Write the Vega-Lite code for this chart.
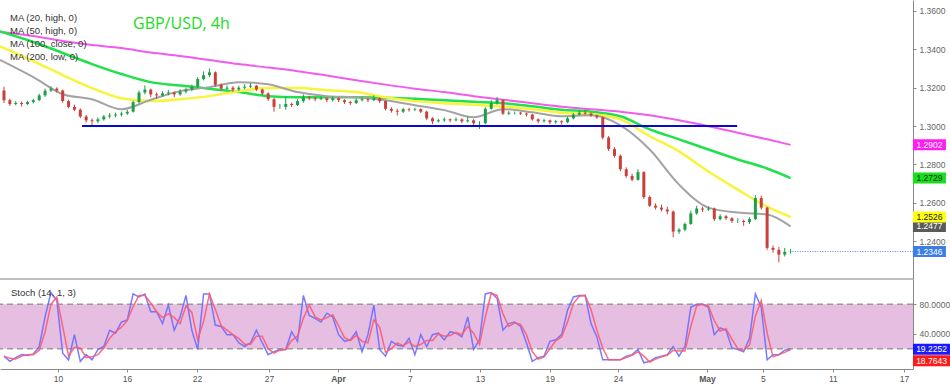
{
"$schema": "https://vega.github.io/schema/vega-lite/v6.json",
"autosize": {"type": "none"},
"padding": {"left": 0, "top": 0, "right": 37, "bottom": 16},
"background": "white",
"config": {"view": {"stroke": null}, "font": "Liberation Sans", "text": {"font": "Liberation Sans"}},
"datasets": {
"candles": [
{"i":0,"o":1.3185,"h":1.3205,"l":1.3120,"c":1.3135},{"i":1,"o":1.3135,"h":1.3142,"l":1.3105,"c":1.3115},{"i":2,"o":1.3115,"h":1.3130,"l":1.3108,"c":1.3120},{"i":3,"o":1.3120,"h":1.3128,"l":1.3102,"c":1.3115},{"i":4,"o":1.3115,"h":1.3132,"l":1.3110,"c":1.3125},{"i":5,"o":1.3125,"h":1.3142,"l":1.3118,"c":1.3135},{"i":6,"o":1.3135,"h":1.3168,"l":1.3130,"c":1.3160},{"i":7,"o":1.3160,"h":1.3195,"l":1.3152,"c":1.3185},{"i":8,"o":1.3185,"h":1.3208,"l":1.3178,"c":1.3195},{"i":9,"o":1.3195,"h":1.3202,"l":1.3175,"c":1.3185},
{"i":10,"o":1.3185,"h":1.3190,"l":1.3122,"c":1.3130},{"i":11,"o":1.3130,"h":1.3138,"l":1.3092,"c":1.3100},{"i":12,"o":1.3100,"h":1.3112,"l":1.3078,"c":1.3085},{"i":13,"o":1.3085,"h":1.3092,"l":1.3042,"c":1.3050},{"i":14,"o":1.3050,"h":1.3058,"l":1.3018,"c":1.3030},{"i":15,"o":1.3030,"h":1.3040,"l":1.3000,"c":1.3025},{"i":16,"o":1.3025,"h":1.3045,"l":1.3015,"c":1.3035},{"i":17,"o":1.3035,"h":1.3058,"l":1.3028,"c":1.3050},{"i":18,"o":1.3050,"h":1.3068,"l":1.3040,"c":1.3055},{"i":19,"o":1.3055,"h":1.3070,"l":1.3045,"c":1.3060},
{"i":20,"o":1.3060,"h":1.3075,"l":1.3050,"c":1.3065},{"i":21,"o":1.3065,"h":1.3085,"l":1.3058,"c":1.3075},{"i":22,"o":1.3075,"h":1.3132,"l":1.3070,"c":1.3125},{"i":23,"o":1.3125,"h":1.3185,"l":1.3118,"c":1.3175},{"i":24,"o":1.3175,"h":1.3212,"l":1.3165,"c":1.3190},{"i":25,"o":1.3190,"h":1.3195,"l":1.3150,"c":1.3165},{"i":26,"o":1.3165,"h":1.3175,"l":1.3142,"c":1.3160},{"i":27,"o":1.3160,"h":1.3182,"l":1.3152,"c":1.3170},{"i":28,"o":1.3170,"h":1.3188,"l":1.3160,"c":1.3175},{"i":29,"o":1.3175,"h":1.3180,"l":1.3150,"c":1.3165},
{"i":30,"o":1.3165,"h":1.3192,"l":1.3158,"c":1.3180},{"i":31,"o":1.3180,"h":1.3200,"l":1.3170,"c":1.3190},{"i":32,"o":1.3190,"h":1.3215,"l":1.3182,"c":1.3205},{"i":33,"o":1.3205,"h":1.3255,"l":1.3198,"c":1.3245},{"i":34,"o":1.3245,"h":1.3285,"l":1.3238,"c":1.3265},{"i":35,"o":1.3265,"h":1.3300,"l":1.3255,"c":1.3280},{"i":36,"o":1.3280,"h":1.3285,"l":1.3205,"c":1.3215},{"i":37,"o":1.3215,"h":1.3222,"l":1.3185,"c":1.3195},{"i":38,"o":1.3195,"h":1.3212,"l":1.3188,"c":1.3200},{"i":39,"o":1.3200,"h":1.3208,"l":1.3178,"c":1.3190},
{"i":40,"o":1.3190,"h":1.3210,"l":1.3182,"c":1.3200},{"i":41,"o":1.3200,"h":1.3218,"l":1.3192,"c":1.3205},{"i":42,"o":1.3205,"h":1.3225,"l":1.3198,"c":1.3210},{"i":43,"o":1.3210,"h":1.3215,"l":1.3182,"c":1.3190},{"i":44,"o":1.3190,"h":1.3196,"l":1.3160,"c":1.3170},{"i":45,"o":1.3170,"h":1.3176,"l":1.3132,"c":1.3140},{"i":46,"o":1.3140,"h":1.3148,"l":1.3075,"c":1.3100},{"i":47,"o":1.3100,"h":1.3115,"l":1.3090,"c":1.3100},{"i":48,"o":1.3100,"h":1.3155,"l":1.3085,"c":1.3115},{"i":49,"o":1.3115,"h":1.3122,"l":1.3100,"c":1.3110},
{"i":50,"o":1.3110,"h":1.3140,"l":1.3105,"c":1.3130},{"i":51,"o":1.3130,"h":1.3165,"l":1.3122,"c":1.3150},{"i":52,"o":1.3150,"h":1.3158,"l":1.3135,"c":1.3145},{"i":53,"o":1.3145,"h":1.3152,"l":1.3130,"c":1.3140},{"i":54,"o":1.3140,"h":1.3155,"l":1.3135,"c":1.3145},{"i":55,"o":1.3145,"h":1.3150,"l":1.3125,"c":1.3135},{"i":56,"o":1.3135,"h":1.3155,"l":1.3128,"c":1.3145},{"i":57,"o":1.3145,"h":1.3150,"l":1.3125,"c":1.3135},{"i":58,"o":1.3135,"h":1.3140,"l":1.3115,"c":1.3125},{"i":59,"o":1.3125,"h":1.3132,"l":1.3110,"c":1.3120},
{"i":60,"o":1.3120,"h":1.3145,"l":1.3115,"c":1.3135},{"i":61,"o":1.3135,"h":1.3150,"l":1.3128,"c":1.3140},{"i":62,"o":1.3140,"h":1.3146,"l":1.3125,"c":1.3135},{"i":63,"o":1.3135,"h":1.3160,"l":1.3130,"c":1.3145},{"i":64,"o":1.3145,"h":1.3150,"l":1.3120,"c":1.3130},{"i":65,"o":1.3130,"h":1.3135,"l":1.3082,"c":1.3090},{"i":66,"o":1.3090,"h":1.3098,"l":1.3070,"c":1.3080},{"i":67,"o":1.3080,"h":1.3090,"l":1.3055,"c":1.3075},{"i":68,"o":1.3075,"h":1.3095,"l":1.3068,"c":1.3088},{"i":69,"o":1.3088,"h":1.3095,"l":1.3075,"c":1.3085},
{"i":70,"o":1.3085,"h":1.3096,"l":1.3078,"c":1.3088},{"i":71,"o":1.3088,"h":1.3092,"l":1.3068,"c":1.3075},{"i":72,"o":1.3075,"h":1.3080,"l":1.3032,"c":1.3040},{"i":73,"o":1.3040,"h":1.3046,"l":1.3010,"c":1.3025},{"i":74,"o":1.3025,"h":1.3038,"l":1.3018,"c":1.3030},{"i":75,"o":1.3030,"h":1.3045,"l":1.3022,"c":1.3035},{"i":76,"o":1.3035,"h":1.3040,"l":1.3020,"c":1.3030},{"i":77,"o":1.3030,"h":1.3045,"l":1.3025,"c":1.3035},{"i":78,"o":1.3035,"h":1.3040,"l":1.3015,"c":1.3025},{"i":79,"o":1.3025,"h":1.3050,"l":1.3018,"c":1.3030},
{"i":80,"o":1.3030,"h":1.3036,"l":1.3005,"c":1.3015},{"i":81,"o":1.3015,"h":1.3025,"l":1.2985,"c":1.3015},{"i":82,"o":1.3015,"h":1.3098,"l":1.3010,"c":1.3090},{"i":83,"o":1.3090,"h":1.3135,"l":1.3085,"c":1.3120},{"i":84,"o":1.3120,"h":1.3152,"l":1.3112,"c":1.3135},{"i":85,"o":1.3135,"h":1.3140,"l":1.3058,"c":1.3065},{"i":86,"o":1.3065,"h":1.3078,"l":1.3058,"c":1.3070},{"i":87,"o":1.3070,"h":1.3076,"l":1.3060,"c":1.3070},{"i":88,"o":1.3070,"h":1.3074,"l":1.3058,"c":1.3065},{"i":89,"o":1.3065,"h":1.3070,"l":1.3050,"c":1.3060},
{"i":90,"o":1.3060,"h":1.3064,"l":1.3028,"c":1.3035},{"i":91,"o":1.3035,"h":1.3040,"l":1.3015,"c":1.3025},{"i":92,"o":1.3025,"h":1.3038,"l":1.3018,"c":1.3030},{"i":93,"o":1.3030,"h":1.3034,"l":1.3010,"c":1.3020},{"i":94,"o":1.3020,"h":1.3032,"l":1.3012,"c":1.3025},{"i":95,"o":1.3025,"h":1.3030,"l":1.3008,"c":1.3020},{"i":96,"o":1.3020,"h":1.3048,"l":1.3015,"c":1.3040},{"i":97,"o":1.3040,"h":1.3068,"l":1.3035,"c":1.3060},{"i":98,"o":1.3060,"h":1.3082,"l":1.3055,"c":1.3070},{"i":99,"o":1.3070,"h":1.3085,"l":1.3058,"c":1.3065},
{"i":100,"o":1.3065,"h":1.3070,"l":1.3048,"c":1.3055},{"i":101,"o":1.3055,"h":1.3060,"l":1.3038,"c":1.3045},{"i":102,"o":1.3045,"h":1.3050,"l":1.2930,"c":1.2940},{"i":103,"o":1.2940,"h":1.2948,"l":1.2870,"c":1.2880},{"i":104,"o":1.2880,"h":1.2890,"l":1.2835,"c":1.2845},{"i":105,"o":1.2845,"h":1.2852,"l":1.2765,"c":1.2775},{"i":106,"o":1.2775,"h":1.2785,"l":1.2730,"c":1.2740},{"i":107,"o":1.2740,"h":1.2752,"l":1.2712,"c":1.2720},{"i":108,"o":1.2720,"h":1.2775,"l":1.2715,"c":1.2760},{"i":109,"o":1.2760,"h":1.2765,"l":1.2620,"c":1.2630},
{"i":110,"o":1.2630,"h":1.2638,"l":1.2578,"c":1.2585},{"i":111,"o":1.2585,"h":1.2598,"l":1.2565,"c":1.2575},{"i":112,"o":1.2575,"h":1.2590,"l":1.2555,"c":1.2565},{"i":113,"o":1.2565,"h":1.2580,"l":1.2540,"c":1.2555},{"i":114,"o":1.2555,"h":1.2560,"l":1.2420,"c":1.2450},{"i":115,"o":1.2450,"h":1.2468,"l":1.2438,"c":1.2460},{"i":116,"o":1.2460,"h":1.2498,"l":1.2452,"c":1.2490},{"i":117,"o":1.2490,"h":1.2560,"l":1.2485,"c":1.2545},{"i":118,"o":1.2545,"h":1.2585,"l":1.2538,"c":1.2570},{"i":119,"o":1.2570,"h":1.2580,"l":1.2552,"c":1.2565},
{"i":120,"o":1.2565,"h":1.2582,"l":1.2558,"c":1.2570},{"i":121,"o":1.2570,"h":1.2575,"l":1.2505,"c":1.2515},{"i":122,"o":1.2515,"h":1.2540,"l":1.2508,"c":1.2530},{"i":123,"o":1.2530,"h":1.2536,"l":1.2510,"c":1.2520},{"i":124,"o":1.2520,"h":1.2525,"l":1.2495,"c":1.2505},{"i":125,"o":1.2505,"h":1.2520,"l":1.2495,"c":1.2505},{"i":126,"o":1.2505,"h":1.2512,"l":1.2480,"c":1.2500},{"i":127,"o":1.2500,"h":1.2525,"l":1.2490,"c":1.2515},{"i":128,"o":1.2515,"h":1.2640,"l":1.2510,"c":1.2625},{"i":129,"o":1.2625,"h":1.2638,"l":1.2565,"c":1.2575},
{"i":130,"o":1.2575,"h":1.2580,"l":1.2355,"c":1.2365},{"i":131,"o":1.2365,"h":1.2378,"l":1.2340,"c":1.2355},{"i":132,"o":1.2355,"h":1.2370,"l":1.2290,"c":1.2330},{"i":133,"o":1.2330,"h":1.2365,"l":1.2320,"c":1.2345},{"i":134,"o":1.2345,"h":1.2360,"l":1.2335,"c":1.2346}
],
"ma": [
{"i":-0.7,"ma20":1.3345,"ma50":1.3415,"ma100":1.3493,"ma200":1.3492},
{"i":5,"ma20":1.3255,"ma50":1.3339,"ma100":1.3438,"ma200":1.3469},
{"i":10,"ma20":1.3166,"ma50":1.3266,"ma100":1.3381,"ma200":1.3443},
{"i":15,"ma20":1.3140,"ma50":1.3198,"ma100":1.3323,"ma200":1.3422},
{"i":20,"ma20":1.3088,"ma50":1.3145,"ma100":1.3271,"ma200":1.3407},
{"i":25,"ma20":1.3137,"ma50":1.3130,"ma100":1.3229,"ma200":1.3383},
{"i":30,"ma20":1.3182,"ma50":1.3140,"ma100":1.3211,"ma200":1.3365},
{"i":35,"ma20":1.3203,"ma50":1.3156,"ma100":1.3195,"ma200":1.3344},
{"i":40,"ma20":1.3229,"ma50":1.3182,"ma100":1.3177,"ma200":1.3323},
{"i":45,"ma20":1.3218,"ma50":1.3198,"ma100":1.3156,"ma200":1.3305},
{"i":50,"ma20":1.3177,"ma50":1.3198,"ma100":1.3150,"ma200":1.3286},
{"i":55,"ma20":1.3156,"ma50":1.3187,"ma100":1.3150,"ma200":1.3263},
{"i":60,"ma20":1.3150,"ma50":1.3177,"ma100":1.3150,"ma200":1.3239},
{"i":65,"ma20":1.3135,"ma50":1.3150,"ma100":1.3148,"ma200":1.3216},
{"i":70,"ma20":1.3109,"ma50":1.3130,"ma100":1.3143,"ma200":1.3195},
{"i":75,"ma20":1.3083,"ma50":1.3119,"ma100":1.3135,"ma200":1.3177},
{"i":80,"ma20":1.3046,"ma50":1.3111,"ma100":1.3127,"ma200":1.3156},
{"i":85,"ma20":1.3088,"ma50":1.3101,"ma100":1.3119,"ma200":1.3137},
{"i":90,"ma20":1.3072,"ma50":1.3088,"ma100":1.3103,"ma200":1.3119},
{"i":95,"ma20":1.3051,"ma50":1.3069,"ma100":1.3085,"ma200":1.3101},
{"i":100,"ma20":1.3056,"ma50":1.3062,"ma100":1.3075,"ma200":1.3088},
{"i":105,"ma20":1.3004,"ma50":1.3035,"ma100":1.3051,"ma200":1.3075},
{"i":110,"ma20":1.2878,"ma50":1.2947,"ma100":1.2983,"ma200":1.3056},
{"i":115,"ma20":1.2695,"ma50":1.2868,"ma100":1.2931,"ma200":1.3030},
{"i":120,"ma20":1.2575,"ma50":1.2763,"ma100":1.2878,"ma200":1.2999},
{"i":125,"ma20":1.2549,"ma50":1.2669,"ma100":1.2826,"ma200":1.2965},
{"i":130,"ma20":1.2539,"ma50":1.2580,"ma100":1.2779,"ma200":1.2931},
{"i":134,"ma20":1.2477,"ma50":1.2526,"ma100":1.2729,"ma200":1.2902}
],
"stoch": [
{"i":0,"k":10,"d":10},{"i":1,"k":3,"d":7},{"i":2,"k":8,"d":6},{"i":3,"k":12,"d":10},{"i":4,"k":11,"d":12},{"i":5,"k":13,"d":12},{"i":6,"k":23,"d":18},{"i":7,"k":63,"d":43},{"i":8,"k":96,"d":80},{"i":9,"k":85,"d":90},
{"i":10,"k":14,"d":50},{"i":11,"k":5,"d":10},{"i":12,"k":39,"d":22},{"i":13,"k":3,"d":21},{"i":14,"k":12,"d":8},{"i":15,"k":5,"d":9},{"i":16,"k":19,"d":12},{"i":17,"k":23,"d":21},{"i":18,"k":45,"d":34},{"i":19,"k":41,"d":43},
{"i":20,"k":56,"d":49},{"i":21,"k":59,"d":58},{"i":22,"k":94,"d":77},{"i":23,"k":90,"d":92},{"i":24,"k":94,"d":92},{"i":25,"k":70,"d":82},{"i":26,"k":70,"d":70},{"i":27,"k":54,"d":62},{"i":28,"k":79,"d":67},{"i":29,"k":45,"d":62},
{"i":30,"k":63,"d":54},{"i":31,"k":92,"d":78},{"i":32,"k":45,"d":69},{"i":33,"k":19,"d":32},{"i":34,"k":94,"d":57},{"i":35,"k":94,"d":94},{"i":36,"k":52,"d":73},{"i":37,"k":50,"d":51},{"i":38,"k":39,"d":45},{"i":39,"k":39,"d":39},
{"i":40,"k":28,"d":34},{"i":41,"k":23,"d":26},{"i":42,"k":28,"d":26},{"i":43,"k":45,"d":37},{"i":44,"k":28,"d":37},{"i":45,"k":12,"d":20},{"i":46,"k":16,"d":14},{"i":47,"k":19,"d":18},{"i":48,"k":19,"d":19},{"i":49,"k":43,"d":31},
{"i":50,"k":30,"d":37},{"i":51,"k":92,"d":61},{"i":52,"k":65,"d":79},{"i":53,"k":61,"d":63},{"i":54,"k":56,"d":59},{"i":55,"k":68,"d":62},{"i":56,"k":63,"d":66},{"i":57,"k":39,"d":51},{"i":58,"k":30,"d":35},{"i":59,"k":32,"d":31},
{"i":60,"k":43,"d":38},{"i":61,"k":16,"d":30},{"i":62,"k":39,"d":28},{"i":63,"k":79,"d":59},{"i":64,"k":19,"d":49},{"i":65,"k":10,"d":15},{"i":66,"k":30,"d":20},{"i":67,"k":25,"d":28},{"i":68,"k":23,"d":24},{"i":69,"k":34,"d":29},
{"i":70,"k":12,"d":23},{"i":71,"k":39,"d":26},{"i":72,"k":23,"d":31},{"i":73,"k":39,"d":31},{"i":74,"k":41,"d":40},{"i":75,"k":32,"d":37},{"i":76,"k":43,"d":38},{"i":77,"k":41,"d":42},{"i":78,"k":36,"d":39},{"i":79,"k":63,"d":50},
{"i":80,"k":19,"d":41},{"i":81,"k":32,"d":26},{"i":82,"k":94,"d":63},{"i":83,"k":96,"d":95},{"i":84,"k":88,"d":92},{"i":85,"k":45,"d":67},{"i":86,"k":54,"d":50},{"i":87,"k":56,"d":55},{"i":88,"k":50,"d":53},{"i":89,"k":28,"d":39},
{"i":90,"k":3,"d":16},{"i":91,"k":8,"d":6},{"i":92,"k":10,"d":9},{"i":93,"k":30,"d":20},{"i":94,"k":32,"d":31},{"i":95,"k":39,"d":36},{"i":96,"k":72,"d":56},{"i":97,"k":90,"d":81},{"i":98,"k":92,"d":91},{"i":99,"k":92,"d":92},
{"i":100,"k":54,"d":73},{"i":101,"k":36,"d":45},{"i":102,"k":5,"d":21},{"i":103,"k":5,"d":5},{"i":104,"k":5,"d":5},{"i":105,"k":5,"d":5},{"i":106,"k":10,"d":8},{"i":107,"k":12,"d":11},{"i":108,"k":19,"d":16},{"i":109,"k":1,"d":10},
{"i":110,"k":3,"d":2},{"i":111,"k":8,"d":6},{"i":112,"k":10,"d":9},{"i":113,"k":12,"d":11},{"i":114,"k":23,"d":18},{"i":115,"k":10,"d":17},{"i":116,"k":23,"d":17},{"i":117,"k":76,"d":50},{"i":118,"k":80,"d":78},{"i":119,"k":80,"d":80},
{"i":120,"k":76,"d":78},{"i":121,"k":39,"d":58},{"i":122,"k":48,"d":44},{"i":123,"k":45,"d":47},{"i":124,"k":21,"d":33},{"i":125,"k":19,"d":20},{"i":126,"k":16,"d":18},{"i":127,"k":34,"d":25},{"i":128,"k":94,"d":64},{"i":129,"k":76,"d":85},
{"i":130,"k":5,"d":41},{"i":131,"k":12,"d":9},{"i":132,"k":12,"d":12},{"i":133,"k":18,"d":15},{"i":134,"k":19.2252,"d":18.7643}
],
"ptags": [
{"s":"MA200","v":1.2902},{"s":"MA100","v":1.2729},{"s":"MA20","v":1.2477},{"s":"MA50","v":1.2526},{"s":"Last","v":1.2346}
]
},
"width": 913,
"height": 369,
"resolve": {"scale": {"y": "independent"}, "axis": {"y": "independent"}},
"layer": [
{"data": {"name": "ma"}, "mark": {"type": "line", "color": "#f25cec", "strokeWidth": 2, "interpolate": "monotone"},
 "encoding": {
  "x": {"field": "i", "type": "quantitative", "title": null, "scale": {"domain": [-0.68, 154.85], "nice": false, "zero": false, "padding": 0},
   "axis": {"title": null, "values": [9.2, 20.95, 32.88, 45.14, 56.89, 69.16, 81.08, 92.97, 104.59, 119.75, 129.29, 141.21, 153.31],
    "labelExpr": "['10','16','22','27','Apr','7','13','19','24','May','5','11','17'][indexof([9.2, 20.95, 32.88, 45.14, 56.89, 69.16, 81.08, 92.97, 104.59, 119.75, 129.29, 141.21, 153.31], datum.value)]",
    "labelFontWeight": {"condition": {"test": "datum.value == 56.89 || datum.value == 119.75", "value": "bold"}, "value": "normal"},
    "grid": false, "tickSize": 3, "tickColor": "#888", "domainColor": "#888", "labelColor": "#555", "labelFontSize": 8.5, "labelPadding": 2, "labelFont": "Liberation Sans", "labelFlush": false}},
  "y": {"field": "ma200", "type": "quantitative", "title": null, "scale": {"domain": [1.2203, 1.3657], "range": [279, 0], "nice": false, "zero": false, "padding": 0},
   "axis": {"orient": "right", "title": null, "values": [1.24, 1.26, 1.28, 1.3, 1.32, 1.34, 1.36], "format": ".4f", "grid": false, "tickSize": 3, "tickColor": "#888", "domainColor": "#888", "labelColor": "#666", "labelFontSize": 8.5, "labelPadding": 3, "labelFont": "Liberation Sans"}}
 }},
{"data": {"name": "ma"}, "mark": {"type": "line", "color": "#22e04c", "strokeWidth": 2.5, "interpolate": "monotone"},
 "encoding": {"x": {"field": "i", "type": "quantitative", "title": null}, "y": {"field": "ma100", "type": "quantitative", "title": null, "scale": {"domain": [1.2203, 1.3657], "range": [279, 0], "nice": false, "zero": false, "padding": 0}, "axis": null}}},
{"data": {"name": "ma"}, "mark": {"type": "line", "color": "#f7f43a", "strokeWidth": 2.5, "interpolate": "monotone"},
 "encoding": {"x": {"field": "i", "type": "quantitative", "title": null}, "y": {"field": "ma50", "type": "quantitative", "title": null, "scale": {"domain": [1.2203, 1.3657], "range": [279, 0], "nice": false, "zero": false, "padding": 0}, "axis": null}}},
{"data": {"name": "ma"}, "mark": {"type": "line", "color": "#a3a3a3", "strokeWidth": 2, "interpolate": "monotone"},
 "encoding": {"x": {"field": "i", "type": "quantitative", "title": null}, "y": {"field": "ma20", "type": "quantitative", "title": null, "scale": {"domain": [1.2203, 1.3657], "range": [279, 0], "nice": false, "zero": false, "padding": 0}, "axis": null}}},
{"data": {"name": "candles"}, "mark": {"type": "rule", "strokeWidth": 1},
 "encoding": {"x": {"field": "i", "type": "quantitative", "title": null}, "y": {"field": "l", "type": "quantitative", "title": null, "scale": {"domain": [1.2203, 1.3657], "range": [279, 0], "nice": false, "zero": false, "padding": 0}, "axis": null}, "y2": {"field": "h"},
  "color": {"condition": {"test": "datum.c >= datum.o", "value": "#1f9e48"}, "value": "#c9403a"}}},
{"data": {"name": "candles"}, "mark": {"type": "bar", "width": 3},
 "encoding": {"x": {"field": "i", "type": "quantitative", "title": null}, "y": {"field": "o", "type": "quantitative", "title": null, "scale": {"domain": [1.2203, 1.3657], "range": [279, 0], "nice": false, "zero": false, "padding": 0}, "axis": null}, "y2": {"field": "c"},
  "color": {"condition": {"test": "datum.c >= datum.o", "value": "#1f9e48"}, "value": "#c9403a"}}},
{"data": {"values": [{}]}, "mark": {"type": "rule", "color": "#0a0acc", "strokeWidth": 2},
 "encoding": {"x": {"datum": 13.3, "type": "quantitative", "title": null}, "x2": {"datum": 124.9}, "y": {"datum": 1.3, "type": "quantitative", "title": null, "scale": {"domain": [1.2203, 1.3657], "range": [279, 0], "nice": false, "zero": false, "padding": 0}, "axis": null}}},
{"data": {"values": [{}]}, "mark": {"type": "rule", "color": "#4f86e8", "strokeWidth": 1, "strokeDash": [1, 1.5]},
 "encoding": {"x": {"datum": 134.3, "type": "quantitative", "title": null}, "x2": {"datum": 154.85}, "y": {"datum": 1.2346, "type": "quantitative", "title": null, "scale": {"domain": [1.2203, 1.3657], "range": [279, 0], "nice": false, "zero": false, "padding": 0}, "axis": null}}},
{"data": {"values": [{}]}, "mark": {"type": "rule", "color": "#a8a8a8", "strokeWidth": 1.5},
 "encoding": {"y": {"datum": 1.2203, "type": "quantitative", "title": null, "scale": {"domain": [1.2203, 1.3657], "range": [279, 0], "nice": false, "zero": false, "padding": 0}, "axis": null}}},
{"data": {"name": "ptags"}, "mark": {"type": "tick", "orient": "horizontal", "size": 33, "thickness": 11, "opacity": 1},
 "encoding": {"x": {"datum": 157.65, "type": "quantitative", "title": null}, "y": {"field": "v", "type": "quantitative", "title": null, "scale": {"domain": [1.2203, 1.3657], "range": [279, 0], "nice": false, "zero": false, "padding": 0}, "axis": null},
  "color": {"field": "s", "type": "nominal", "legend": null, "scale": {"domain": ["MA200", "MA100", "MA50", "MA20", "Last"], "range": ["#ff1cf5", "#14e01c", "#ffff14", "#5a5a5a", "#3d7ee6"]}}}},
{"data": {"name": "ptags"}, "mark": {"type": "text", "fontSize": 8.5, "align": "center", "baseline": "middle", "font": "Liberation Sans"},
 "encoding": {"x": {"datum": 157.65, "type": "quantitative", "title": null}, "y": {"field": "v", "type": "quantitative", "title": null, "scale": {"domain": [1.2203, 1.3657], "range": [279, 0], "nice": false, "zero": false, "padding": 0}, "axis": null},
  "text": {"field": "v", "type": "quantitative", "format": ".4f"},
  "color": {"condition": {"test": "datum.s == 'MA100' || datum.s == 'MA50'", "value": "#222222"}, "value": "#ffffff"}}},
{"data": {"values": [{}]}, "mark": {"type": "text", "text": "GBP/USD, 4h", "fontSize": 16, "font": "Open Sans", "color": "#20dc20", "align": "left", "baseline": "alphabetic"},
 "encoding": {"x": {"datum": 21.98, "type": "quantitative", "title": null}, "y": {"datum": 1.3506, "type": "quantitative", "title": null, "scale": {"domain": [1.2203, 1.3657], "range": [279, 0], "nice": false, "zero": false, "padding": 0}, "axis": null}}},
{"data": {"values": [{}]}, "mark": {"type": "text", "text": "MA (20, high, 0)", "fontSize": 9.5, "color": "#333333", "align": "left", "baseline": "alphabetic"},
 "encoding": {"x": {"datum": 1.02, "type": "quantitative", "title": null}, "y": {"datum": 1.3548, "type": "quantitative", "title": null, "scale": {"domain": [1.2203, 1.3657], "range": [279, 0], "nice": false, "zero": false, "padding": 0}, "axis": null}}},
{"data": {"values": [{}]}, "mark": {"type": "text", "text": "MA (50, high, 0)", "fontSize": 9.5, "color": "#333333", "align": "left", "baseline": "alphabetic"},
 "encoding": {"x": {"datum": 1.02, "type": "quantitative", "title": null}, "y": {"datum": 1.3480, "type": "quantitative", "title": null, "scale": {"domain": [1.2203, 1.3657], "range": [279, 0], "nice": false, "zero": false, "padding": 0}, "axis": null}}},
{"data": {"values": [{}]}, "mark": {"type": "text", "text": "MA (100, close, 0)", "fontSize": 9.5, "color": "#333333", "align": "left", "baseline": "alphabetic"},
 "encoding": {"x": {"datum": 1.02, "type": "quantitative", "title": null}, "y": {"datum": 1.3412, "type": "quantitative", "title": null, "scale": {"domain": [1.2203, 1.3657], "range": [279, 0], "nice": false, "zero": false, "padding": 0}, "axis": null}}},
{"data": {"values": [{}]}, "mark": {"type": "text", "text": "MA (200, low, 0)", "fontSize": 9.5, "color": "#333333", "align": "left", "baseline": "alphabetic"},
 "encoding": {"x": {"datum": 1.02, "type": "quantitative", "title": null}, "y": {"datum": 1.3344, "type": "quantitative", "title": null, "scale": {"domain": [1.2203, 1.3657], "range": [279, 0], "nice": false, "zero": false, "padding": 0}, "axis": null}}},
{"data": {"values": [{}]}, "mark": {"type": "rect", "color": "#e6bee2"},
 "encoding": {"x": {"datum": -0.68, "type": "quantitative", "title": null}, "x2": {"datum": 154.85},
  "y": {"datum": 20, "type": "quantitative", "title": null, "scale": {"domain": [-7.4, 114.2], "range": [369, 279], "nice": false, "zero": false, "padding": 0},
   "axis": {"orient": "right", "title": null, "values": [40, 80], "format": ".4f", "grid": false, "tickSize": 3, "tickColor": "#888", "domainColor": "#888", "labelColor": "#666", "labelFontSize": 8.5, "labelPadding": 3, "labelFont": "Liberation Sans"}},
  "y2": {"datum": 80}}},
{"data": {"values": [{"lvl": 20}, {"lvl": 80}]}, "mark": {"type": "rule", "color": "#9a9a9a", "strokeWidth": 1.5, "strokeDash": [6, 4]},
 "encoding": {"y": {"field": "lvl", "type": "quantitative", "title": null, "scale": {"domain": [-7.4, 114.2], "range": [369, 279], "nice": false, "zero": false, "padding": 0}, "axis": null}}},
{"data": {"name": "stoch"}, "mark": {"type": "line", "color": "#6b6bff", "strokeWidth": 1.5, "opacity": 0.9},
 "encoding": {"x": {"field": "i", "type": "quantitative", "title": null}, "y": {"field": "k", "type": "quantitative", "title": null, "scale": {"domain": [-7.4, 114.2], "range": [369, 279], "nice": false, "zero": false, "padding": 0}, "axis": null}}},
{"data": {"name": "stoch"}, "mark": {"type": "line", "color": "#ff5a70", "strokeWidth": 1.5, "opacity": 0.9},
 "encoding": {"x": {"field": "i", "type": "quantitative", "title": null}, "y": {"field": "d", "type": "quantitative", "title": null, "scale": {"domain": [-7.4, 114.2], "range": [369, 279], "nice": false, "zero": false, "padding": 0}, "axis": null}}},
{"data": {"values": [{}]}, "mark": {"type": "text", "text": "Stoch (14, 1, 3)", "fontSize": 9.5, "color": "#333333", "align": "left", "baseline": "alphabetic"},
 "encoding": {"x": {"datum": 1.19, "type": "quantitative", "title": null}, "y": {"datum": 91, "type": "quantitative", "title": null, "scale": {"domain": [-7.4, 114.2], "range": [369, 279], "nice": false, "zero": false, "padding": 0}, "axis": null}}},
{"data": {"values": [{"v": 19.2252}]}, "mark": {"type": "tick", "orient": "horizontal", "size": 37, "thickness": 11, "opacity": 1, "color": "#1a1aff"},
 "encoding": {"x": {"datum": 158.0, "type": "quantitative", "title": null}, "y": {"field": "v", "type": "quantitative", "title": null, "scale": {"domain": [-7.4, 114.2], "range": [369, 279], "nice": false, "zero": false, "padding": 0}, "axis": null}}},
{"data": {"values": [{"v": 19.2252}]}, "mark": {"type": "text", "fontSize": 8.5, "align": "center", "baseline": "middle", "color": "#ffffff"},
 "encoding": {"x": {"datum": 158.0, "type": "quantitative", "title": null}, "y": {"field": "v", "type": "quantitative", "title": null, "scale": {"domain": [-7.4, 114.2], "range": [369, 279], "nice": false, "zero": false, "padding": 0}, "axis": null}, "text": {"field": "v", "type": "quantitative", "format": ".4f"}}},
{"data": {"values": [{"v": 18.7643}]}, "mark": {"type": "tick", "orient": "horizontal", "size": 37, "thickness": 11, "opacity": 1, "color": "#ff1a1a", "yOffset": 11},
 "encoding": {"x": {"datum": 158.0, "type": "quantitative", "title": null}, "y": {"field": "v", "type": "quantitative", "title": null, "scale": {"domain": [-7.4, 114.2], "range": [369, 279], "nice": false, "zero": false, "padding": 0}, "axis": null}}},
{"data": {"values": [{"v": 18.7643}]}, "mark": {"type": "text", "fontSize": 8.5, "align": "center", "baseline": "middle", "color": "#ffffff", "yOffset": 11},
 "encoding": {"x": {"datum": 158.0, "type": "quantitative", "title": null}, "y": {"field": "v", "type": "quantitative", "title": null, "scale": {"domain": [-7.4, 114.2], "range": [369, 279], "nice": false, "zero": false, "padding": 0}, "axis": null}, "text": {"field": "v", "type": "quantitative", "format": ".4f"}}}
]
}
